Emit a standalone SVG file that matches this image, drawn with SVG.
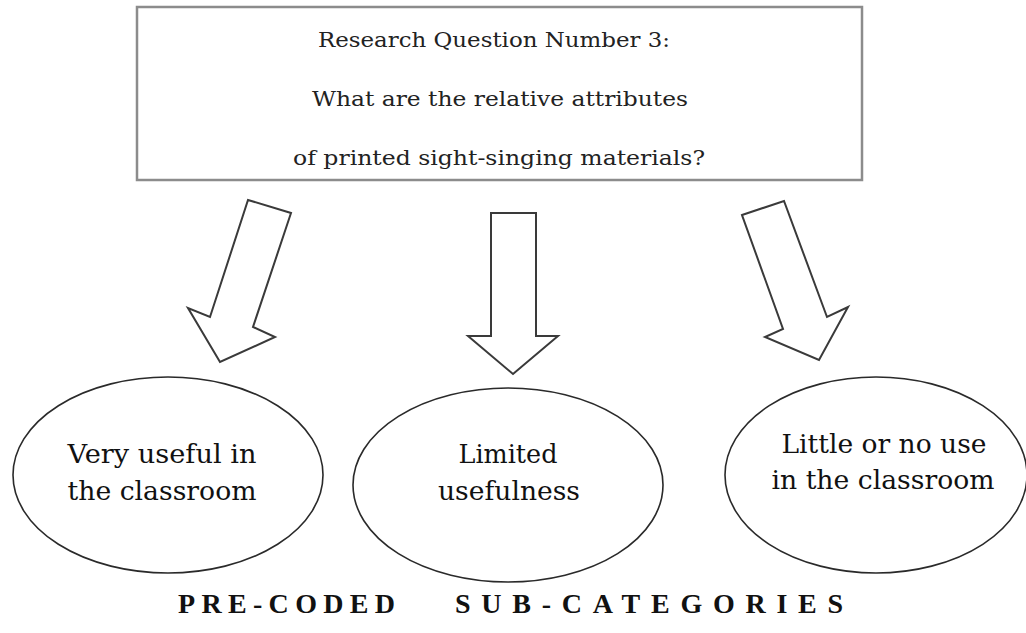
<svg xmlns="http://www.w3.org/2000/svg" width="1026" height="633" viewBox="0 0 1026 633">
<style>
.box{fill:#fff;stroke:#8c8c8c;stroke-width:2.5}
.q{font-family:"DejaVu Serif","Liberation Serif",serif;font-size:21px;fill:#222;text-anchor:middle}
.arrow{fill:#fff;stroke:#3a3a3a;stroke-width:2;stroke-linejoin:miter}
.ell{fill:#fff;stroke:#2a2a2a;stroke-width:1.6}
.lbl{font-family:"DejaVu Serif","Liberation Serif",serif;font-size:26px;fill:#111;text-anchor:middle}
.cap{font-family:"Liberation Serif","DejaVu Serif",serif;font-size:28px;font-weight:bold;fill:#111}
</style>
<rect width="1026" height="633" fill="#fff"/>
<g id="question">
<rect class="box" x="137" y="7" width="725" height="173"/>
<text class="q" x="494" y="47" textLength="352" lengthAdjust="spacingAndGlyphs">Research Question Number 3:</text>
<text class="q" x="500" y="106" textLength="376" lengthAdjust="spacingAndGlyphs">What are the relative attributes</text>
<text class="q" x="499" y="165" textLength="412" lengthAdjust="spacingAndGlyphs">of printed sight-singing materials?</text>
</g>
<g id="connectors">
<polygon class="arrow" points="248,200 291,213 253,327 275,337 220,362 188,308 210,317"/>
<polygon class="arrow" points="491,213 536,213 536,336 558,336 513,374 468,336 491,336"/>
<polygon class="arrow" points="742,215 784,201 827,317 848,307 819,360 765,337 783,329"/>
</g>
<g id="very-useful">
<ellipse class="ell" cx="168" cy="475" rx="155" ry="98"/>
<text class="lbl" x="162" y="463" textLength="189" lengthAdjust="spacingAndGlyphs">Very useful in</text>
<text class="lbl" x="162" y="500" textLength="189" lengthAdjust="spacingAndGlyphs">the classroom</text>
</g>
<g id="limited">
<ellipse class="ell" cx="508" cy="485" rx="155" ry="97"/>
<text class="lbl" x="508" y="463" textLength="99" lengthAdjust="spacingAndGlyphs">Limited</text>
<text class="lbl" x="509" y="500" textLength="142" lengthAdjust="spacingAndGlyphs">usefulness</text>
</g>
<g id="little-use">
<ellipse class="ell" cx="876" cy="475" rx="151" ry="98"/>
<text class="lbl" x="884" y="453" textLength="205" lengthAdjust="spacingAndGlyphs">Little or no use</text>
<text class="lbl" x="883" y="489" textLength="223" lengthAdjust="spacingAndGlyphs">in the classroom</text>
</g>
<g id="caption">
<text class="cap" x="178" y="613" textLength="217" lengthAdjust="spacing">PRE-CODED</text>
<text class="cap" x="455" y="613" textLength="388" lengthAdjust="spacing">SUB-CATEGORIES</text>
</g>
</svg>
